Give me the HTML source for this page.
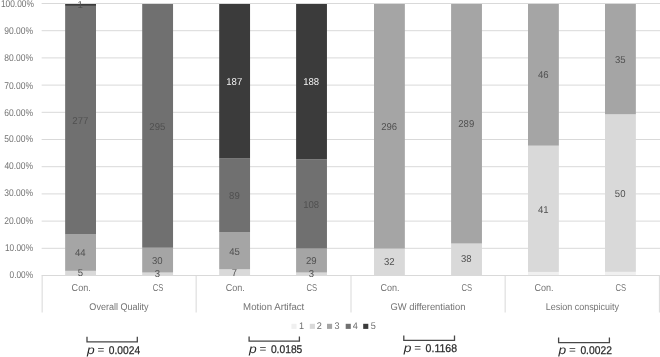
<!DOCTYPE html>
<html><head><meta charset="utf-8"><style>html,body{margin:0;padding:0;background:#fff;overflow:hidden}svg{display:block}</style></head><body>
<svg width="660" height="357" viewBox="0 0 660 357" font-family="Liberation Sans, sans-serif" text-rendering="geometricPrecision">
<rect width="660" height="357" fill="#fff"/>
<line x1="41.65" x2="660" y1="3.50" y2="3.50" stroke="#d9d9d9" stroke-width="1"/>
<line x1="41.65" x2="660" y1="30.70" y2="30.70" stroke="#d9d9d9" stroke-width="1"/>
<line x1="41.65" x2="660" y1="57.90" y2="57.90" stroke="#d9d9d9" stroke-width="1"/>
<line x1="41.65" x2="660" y1="85.10" y2="85.10" stroke="#d9d9d9" stroke-width="1"/>
<line x1="41.65" x2="660" y1="112.30" y2="112.30" stroke="#d9d9d9" stroke-width="1"/>
<line x1="41.65" x2="660" y1="139.50" y2="139.50" stroke="#d9d9d9" stroke-width="1"/>
<line x1="41.65" x2="660" y1="166.70" y2="166.70" stroke="#d9d9d9" stroke-width="1"/>
<line x1="41.65" x2="660" y1="193.90" y2="193.90" stroke="#d9d9d9" stroke-width="1"/>
<line x1="41.65" x2="660" y1="221.10" y2="221.10" stroke="#d9d9d9" stroke-width="1"/>
<line x1="41.65" x2="660" y1="248.30" y2="248.30" stroke="#d9d9d9" stroke-width="1"/>
<text x="0.96" y="6.82" font-size="9.8" fill="#737373" textLength="32.93" lengthAdjust="spacingAndGlyphs">100.00%</text>
<text x="4.20" y="33.82" font-size="9.8" fill="#737373" textLength="28.80" lengthAdjust="spacingAndGlyphs">90.00%</text>
<text x="4.23" y="61.17" font-size="9.8" fill="#737373" textLength="28.77" lengthAdjust="spacingAndGlyphs">80.00%</text>
<text x="4.16" y="88.72" font-size="9.8" fill="#737373" textLength="28.84" lengthAdjust="spacingAndGlyphs">70.00%</text>
<text x="4.17" y="115.72" font-size="9.8" fill="#737373" textLength="28.83" lengthAdjust="spacingAndGlyphs">60.00%</text>
<text x="4.26" y="141.72" font-size="9.8" fill="#737373" textLength="28.74" lengthAdjust="spacingAndGlyphs">50.00%</text>
<text x="4.41" y="169.02" font-size="9.8" fill="#737373" textLength="28.59" lengthAdjust="spacingAndGlyphs">40.00%</text>
<text x="4.28" y="196.37" font-size="9.8" fill="#737373" textLength="28.72" lengthAdjust="spacingAndGlyphs">30.00%</text>
<text x="4.17" y="223.57" font-size="9.8" fill="#737373" textLength="28.83" lengthAdjust="spacingAndGlyphs">20.00%</text>
<text x="4.97" y="250.82" font-size="9.8" fill="#737373" textLength="28.02" lengthAdjust="spacingAndGlyphs">10.00%</text>
<text x="9.58" y="278.32" font-size="9.8" fill="#737373" textLength="23.42" lengthAdjust="spacingAndGlyphs">0.00%</text>
<rect x="65.15" y="270.86" width="30.85" height="4.14" fill="#d9d9d9"/>
<rect x="65.15" y="234.39" width="30.85" height="36.46" fill="#a5a5a5"/>
<rect x="65.15" y="5.90" width="30.85" height="228.49" fill="#707070"/>
<rect x="65.15" y="4.00" width="30.85" height="1.90" fill="#3b3b3b"/>
<rect x="142.20" y="272.52" width="30.85" height="2.48" fill="#d9d9d9"/>
<rect x="142.20" y="247.73" width="30.85" height="24.79" fill="#a5a5a5"/>
<rect x="142.20" y="4.00" width="30.85" height="243.73" fill="#707070"/>
<rect x="219.20" y="269.22" width="30.85" height="5.78" fill="#d9d9d9"/>
<rect x="219.20" y="232.04" width="30.85" height="37.18" fill="#a5a5a5"/>
<rect x="219.20" y="158.50" width="30.85" height="73.53" fill="#707070"/>
<rect x="219.20" y="4.00" width="30.85" height="154.50" fill="#3b3b3b"/>
<rect x="296.10" y="272.52" width="30.85" height="2.48" fill="#d9d9d9"/>
<rect x="296.10" y="248.56" width="30.85" height="23.96" fill="#a5a5a5"/>
<rect x="296.10" y="159.33" width="30.85" height="89.23" fill="#707070"/>
<rect x="296.10" y="4.00" width="30.85" height="155.33" fill="#3b3b3b"/>
<rect x="374.00" y="248.56" width="30.85" height="26.44" fill="#d9d9d9"/>
<rect x="374.00" y="4.00" width="30.85" height="244.56" fill="#a5a5a5"/>
<rect x="451.10" y="243.51" width="30.85" height="31.49" fill="#d9d9d9"/>
<rect x="451.10" y="4.00" width="30.85" height="239.51" fill="#a5a5a5"/>
<rect x="528.00" y="271.92" width="30.85" height="3.08" fill="#f0f0f0"/>
<rect x="528.00" y="145.66" width="30.85" height="126.26" fill="#d9d9d9"/>
<rect x="528.00" y="4.00" width="30.85" height="141.66" fill="#a5a5a5"/>
<rect x="605.00" y="271.85" width="30.85" height="3.15" fill="#f0f0f0"/>
<rect x="605.00" y="114.29" width="30.85" height="157.56" fill="#d9d9d9"/>
<rect x="605.00" y="4.00" width="30.85" height="110.29" fill="#a5a5a5"/>
<line x1="41.65" x2="659.9" y1="275.5" y2="275.5" stroke="#d9d9d9" stroke-width="1"/>
<line x1="42.15" x2="42.15" y1="275.5" y2="312.5" stroke="#d9d9d9" stroke-width="1"/>
<line x1="196.15" x2="196.15" y1="275.5" y2="312.5" stroke="#d9d9d9" stroke-width="1"/>
<line x1="351.00" x2="351.00" y1="275.5" y2="312.5" stroke="#d9d9d9" stroke-width="1"/>
<line x1="505.15" x2="505.15" y1="275.5" y2="312.5" stroke="#d9d9d9" stroke-width="1"/>
<line x1="659.40" x2="659.40" y1="275.5" y2="312.5" stroke="#d9d9d9" stroke-width="1"/>
<text x="77.68" y="276.00" font-size="10" fill="#505050" textLength="5.31" lengthAdjust="spacingAndGlyphs">5</text>
<text x="75.04" y="256.00" font-size="10" fill="#505050" textLength="10.62" lengthAdjust="spacingAndGlyphs">44</text>
<text x="72.36" y="124.00" font-size="10" fill="#505050" textLength="15.93" lengthAdjust="spacingAndGlyphs">277</text>
<text x="77.54" y="7.84" font-size="10" fill="#505050" textLength="5.31" lengthAdjust="spacingAndGlyphs">1</text>
<text x="154.75" y="277.00" font-size="10" fill="#505050" textLength="5.31" lengthAdjust="spacingAndGlyphs">3</text>
<text x="152.07" y="264.00" font-size="10" fill="#505050" textLength="10.62" lengthAdjust="spacingAndGlyphs">30</text>
<text x="149.37" y="130.00" font-size="10" fill="#505050" textLength="15.93" lengthAdjust="spacingAndGlyphs">295</text>
<text x="231.71" y="276.00" font-size="10" fill="#505050" textLength="5.31" lengthAdjust="spacingAndGlyphs">7</text>
<text x="229.15" y="255.00" font-size="10" fill="#505050" textLength="10.62" lengthAdjust="spacingAndGlyphs">45</text>
<text x="229.08" y="199.00" font-size="10" fill="#505050" textLength="10.62" lengthAdjust="spacingAndGlyphs">89</text>
<text x="226.28" y="85.00" font-size="10" fill="#f2f2f2" textLength="15.93" lengthAdjust="spacingAndGlyphs">187</text>
<text x="308.65" y="277.00" font-size="10" fill="#505050" textLength="5.31" lengthAdjust="spacingAndGlyphs">3</text>
<text x="305.95" y="264.00" font-size="10" fill="#505050" textLength="10.62" lengthAdjust="spacingAndGlyphs">29</text>
<text x="303.15" y="208.00" font-size="10" fill="#505050" textLength="15.93" lengthAdjust="spacingAndGlyphs">108</text>
<text x="303.15" y="85.00" font-size="10" fill="#f2f2f2" textLength="15.93" lengthAdjust="spacingAndGlyphs">188</text>
<text x="383.92" y="265.00" font-size="10" fill="#505050" textLength="10.62" lengthAdjust="spacingAndGlyphs">32</text>
<text x="381.18" y="130.00" font-size="10" fill="#505050" textLength="15.93" lengthAdjust="spacingAndGlyphs">296</text>
<text x="460.99" y="262.00" font-size="10" fill="#505050" textLength="10.62" lengthAdjust="spacingAndGlyphs">38</text>
<text x="458.29" y="127.00" font-size="10" fill="#505050" textLength="15.93" lengthAdjust="spacingAndGlyphs">289</text>
<text x="537.99" y="213.00" font-size="10" fill="#505050" textLength="10.62" lengthAdjust="spacingAndGlyphs">41</text>
<text x="537.96" y="78.00" font-size="10" fill="#505050" textLength="10.62" lengthAdjust="spacingAndGlyphs">46</text>
<text x="614.86" y="197.00" font-size="10" fill="#505050" textLength="10.62" lengthAdjust="spacingAndGlyphs">50</text>
<text x="614.88" y="63.00" font-size="10" fill="#505050" textLength="10.62" lengthAdjust="spacingAndGlyphs">35</text>
<text x="71.62" y="291.10" font-size="10.0" fill="#737373" textLength="19.08" lengthAdjust="spacingAndGlyphs">Con.</text>
<text x="152.69" y="291.10" font-size="10.0" fill="#737373" textLength="10.64" lengthAdjust="spacingAndGlyphs">CS</text>
<text x="225.67" y="291.10" font-size="10.0" fill="#737373" textLength="19.08" lengthAdjust="spacingAndGlyphs">Con.</text>
<text x="306.59" y="291.10" font-size="10.0" fill="#737373" textLength="10.64" lengthAdjust="spacingAndGlyphs">CS</text>
<text x="380.47" y="291.10" font-size="10.0" fill="#737373" textLength="19.08" lengthAdjust="spacingAndGlyphs">Con.</text>
<text x="461.59" y="291.10" font-size="10.0" fill="#737373" textLength="10.64" lengthAdjust="spacingAndGlyphs">CS</text>
<text x="534.47" y="291.10" font-size="10.0" fill="#737373" textLength="19.08" lengthAdjust="spacingAndGlyphs">Con.</text>
<text x="615.49" y="291.10" font-size="10.0" fill="#737373" textLength="10.64" lengthAdjust="spacingAndGlyphs">CS</text>
<text x="89.37" y="310.10" font-size="9.8" fill="#737373" textLength="59.25" lengthAdjust="spacingAndGlyphs">Overall Quality</text>
<text x="243.12" y="310.10" font-size="9.8" fill="#737373" textLength="61.16" lengthAdjust="spacingAndGlyphs">Motion Artifact</text>
<text x="390.43" y="310.10" font-size="9.8" fill="#737373" textLength="74.98" lengthAdjust="spacingAndGlyphs">GW differentiation</text>
<text x="545.66" y="310.10" font-size="9.8" fill="#737373" textLength="73.45" lengthAdjust="spacingAndGlyphs">Lesion conspicuity</text>
<rect x="291.40" y="323.8" width="5.1" height="5.1" fill="#f0f0f0"/>
<text x="298.91" y="328.90" font-size="9.6" fill="#6e6e6e" textLength="5.07" lengthAdjust="spacingAndGlyphs">1</text>
<rect x="309.80" y="323.8" width="5.1" height="5.1" fill="#d9d9d9"/>
<text x="316.64" y="328.90" font-size="9.6" fill="#6e6e6e" textLength="5.07" lengthAdjust="spacingAndGlyphs">2</text>
<rect x="327.00" y="323.8" width="5.1" height="5.1" fill="#a5a5a5"/>
<text x="334.45" y="328.90" font-size="9.6" fill="#6e6e6e" textLength="5.07" lengthAdjust="spacingAndGlyphs">3</text>
<rect x="345.70" y="323.8" width="5.1" height="5.1" fill="#707070"/>
<text x="352.79" y="328.90" font-size="9.6" fill="#6e6e6e" textLength="5.07" lengthAdjust="spacingAndGlyphs">4</text>
<rect x="363.20" y="323.8" width="5.1" height="5.1" fill="#3b3b3b"/>
<text x="370.83" y="328.90" font-size="9.6" fill="#6e6e6e" textLength="5.07" lengthAdjust="spacingAndGlyphs">5</text>
<path d="M87 336.8 V341.9 H137.3 V336.8" fill="none" stroke="#474747" stroke-width="1.3"/>
<text x="87.04" y="353.70" font-size="12.3" fill="#2b2b2b" textLength="7.70" lengthAdjust="spacingAndGlyphs" font-style="italic">p</text>
<text x="97.53" y="352.70" font-size="9.5" fill="#2b2b2b" textLength="6.85" lengthAdjust="spacingAndGlyphs">=</text>
<text x="108.80" y="353.70" font-size="11.2" fill="#2b2b2b" textLength="31.30" lengthAdjust="spacingAndGlyphs" stroke="#2b2b2b" stroke-width="0.25">0.0024</text>
<path d="M249.1 336.4 V341.2 H299.4 V336.4" fill="none" stroke="#474747" stroke-width="1.3"/>
<text x="249.14" y="352.70" font-size="12.3" fill="#2b2b2b" textLength="7.70" lengthAdjust="spacingAndGlyphs" font-style="italic">p</text>
<text x="259.63" y="351.70" font-size="9.5" fill="#2b2b2b" textLength="6.85" lengthAdjust="spacingAndGlyphs">=</text>
<text x="270.90" y="352.70" font-size="11.2" fill="#2b2b2b" textLength="31.43" lengthAdjust="spacingAndGlyphs" stroke="#2b2b2b" stroke-width="0.25">0.0185</text>
<path d="M403.8 335.5 V340.3 H454.5 V335.5" fill="none" stroke="#474747" stroke-width="1.3"/>
<text x="403.84" y="351.70" font-size="12.3" fill="#2b2b2b" textLength="7.70" lengthAdjust="spacingAndGlyphs" font-style="italic">p</text>
<text x="414.33" y="350.70" font-size="9.5" fill="#2b2b2b" textLength="6.85" lengthAdjust="spacingAndGlyphs">=</text>
<text x="425.60" y="351.70" font-size="11.2" fill="#2b2b2b" textLength="31.45" lengthAdjust="spacingAndGlyphs" stroke="#2b2b2b" stroke-width="0.25">0.1168</text>
<path d="M558.6 337.6 V342.7 H609.4 V337.6" fill="none" stroke="#474747" stroke-width="1.3"/>
<text x="558.64" y="353.70" font-size="12.3" fill="#2b2b2b" textLength="7.70" lengthAdjust="spacingAndGlyphs" font-style="italic">p</text>
<text x="569.13" y="352.70" font-size="9.5" fill="#2b2b2b" textLength="6.85" lengthAdjust="spacingAndGlyphs">=</text>
<text x="580.40" y="353.70" font-size="11.2" fill="#2b2b2b" textLength="31.52" lengthAdjust="spacingAndGlyphs" stroke="#2b2b2b" stroke-width="0.25">0.0022</text>
</svg>
</body></html>
